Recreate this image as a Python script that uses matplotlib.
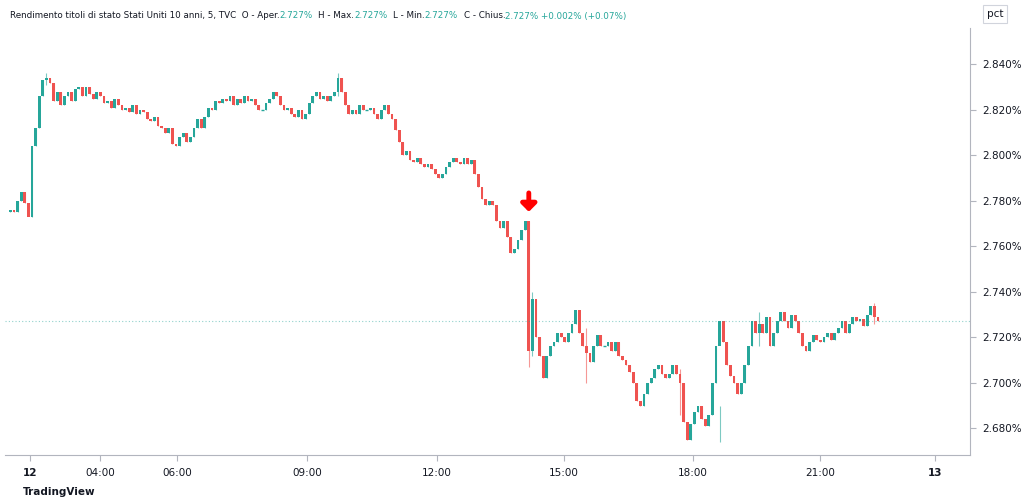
import matplotlib.pyplot as plt
from matplotlib.patches import Rectangle
import numpy as np

# closes of the 5 minute bars (opens = previous close)
closes = [2.776, 2.775, 2.780, 2.784, 2.779, 2.773,
          2.804, 2.812, 2.826, 2.833, 2.834, 2.832,
          2.824, 2.828, 2.822, 2.826, 2.828, 2.824, 2.829, 2.830, 2.826, 2.830, 2.827, 2.825, 2.828,
          2.826, 2.823, 2.824, 2.821, 2.825, 2.822, 2.820, 2.821,
          2.819, 2.822, 2.818, 2.820, 2.819, 2.816, 2.815, 2.817, 2.813, 2.812, 2.810, 2.812,
          2.805, 2.804, 2.808, 2.810, 2.806, 2.808, 2.812, 2.816,
          2.812, 2.817, 2.821, 2.820, 2.824, 2.823, 2.825, 2.824, 2.826, 2.822, 2.825, 2.823,
          2.826, 2.824, 2.825, 2.822, 2.820, 2.820, 2.823, 2.825, 2.828, 2.826, 2.822, 2.820, 2.821, 2.818,
          2.817, 2.820, 2.816, 2.818, 2.823, 2.826, 2.828, 2.825, 2.826, 2.824, 2.826, 2.828,
          2.834, 2.828, 2.822, 2.818, 2.820, 2.818, 2.822, 2.820, 2.820, 2.821, 2.818, 2.816, 2.820, 2.822, 2.818,
          2.816, 2.811, 2.806, 2.800, 2.802, 2.798, 2.797, 2.799, 2.796, 2.795, 2.796,
          2.794, 2.792, 2.790, 2.792, 2.795, 2.797, 2.799, 2.797,
          2.796, 2.799, 2.796, 2.798, 2.792, 2.786, 2.781, 2.778,
          2.780, 2.778, 2.771, 2.768, 2.771, 2.764, 2.757, 2.759, 2.763, 2.767, 2.771,
          2.714, 2.737, 2.720, 2.712,
          2.702, 2.712, 2.716, 2.718, 2.722, 2.720, 2.718, 2.722, 2.726, 2.732, 2.722, 2.716,
          2.713, 2.709, 2.716, 2.721, 2.716, 2.716, 2.718, 2.714, 2.718, 2.712, 2.710,
          2.708, 2.705, 2.700, 2.692, 2.690, 2.695, 2.700,
          2.702, 2.706, 2.708, 2.704, 2.702, 2.704, 2.708, 2.704, 2.700,
          2.683, 2.675, 2.682, 2.687, 2.690, 2.684, 2.681, 2.686, 2.700,
          2.716, 2.727, 2.718, 2.708, 2.703, 2.700, 2.695, 2.700, 2.708, 2.716, 2.727,
          2.722, 2.726, 2.722, 2.729, 2.716, 2.722, 2.727, 2.731, 2.727, 2.724, 2.730, 2.727, 2.722, 2.716,
          2.714, 2.718, 2.721, 2.719, 2.718, 2.720, 2.722, 2.719, 2.722, 2.724, 2.727, 2.722, 2.726, 2.729,
          2.727, 2.728, 2.725, 2.730, 2.734, 2.729, 2.727]
first_open = 2.775
# a few visible wick extremes (bar index: (low, high))
wicks = {5: (2.773, 2.773), 10: (2.831, 2.836), 91: (2.826, 2.836), 144: (2.707, 2.771),
         145: (2.712, 2.740), 160: (2.700, 2.724), 186: (2.686, 2.706), 197: (2.674, 2.690),
         208: (2.716, 2.731), 240: (2.726, 2.735)}

last_price = 2.727
yticks = [2.680, 2.700, 2.720, 2.740, 2.760, 2.780, 2.800, 2.820, 2.840]
xlabels = ['12', '04:00', '06:00', '09:00', '12:00', '15:00', '18:00', '21:00', '13']
xlabel_px = [30, 100, 177, 307, 437, 564, 693, 820, 935]

# header pieces: (text, is_value)
header = [('Rendimento titoli di stato Stati Uniti 10 anni, 5, TVC  O - Aper.', False),
          ('2.727%', True), ('H - Max.', False), ('2.727%', True),
          ('L - Min.', False), ('2.727%', True), ('C - Chius.', False),
          ('2.727% +0.002% (+0.07%)', True)]

up_c = '#26a69a'
dn_c = '#ef5350'

fig = plt.figure(figsize=(10.24, 5.03), dpi=100)
ax = fig.add_axes([5 / 1024, 1 - 455 / 503, 965 / 1024, 427 / 503])

opens = [first_open] + closes[:-1]
for i, (o, c) in enumerate(zip(opens, closes)):
    col = up_c if c >= o else dn_c
    lo, hi = wicks.get(i, (min(o, c), max(o, c)))
    ax.vlines(i, lo, hi, color=col, lw=0.8, alpha=0.6)
    h = abs(c - o)
    if h < 0.0004:
        ax.hlines((o + c) / 2, i - 0.38, i + 0.38, color=col, lw=1)
    else:
        ax.add_patch(Rectangle((i - 0.38, min(o, c)), 0.76, h, color=col, lw=0))

nslots = 965 / 3.6
ax.set_xlim(-1.5, nslots - 1.5)
ax.set_ylim(2.6683, 2.8560)
ax.axhline(last_price, color=up_c, lw=0.8, ls=(0, (1, 2)), alpha=0.5)

# red arrow above the spike
ax.annotate('', xy=(144, 2.7752), xytext=(144, 2.7835),
            arrowprops=dict(arrowstyle='-|>,head_width=0.45,head_length=0.45', lw=3.5,
                            color='#ff0000', shrinkA=0, shrinkB=0))

ax.yaxis.tick_right()
ax.set_yticks(yticks)
ax.set_yticklabels(['%.3f%%' % t for t in yticks], fontsize=7.5, color='#131722')
xpos = [-1.5 + (p - 5) / 3.6 for p in xlabel_px]
ax.set_xticks(xpos)
ax.set_xticklabels(xlabels, fontsize=7.5, color='#131722')
for lab in ax.get_xticklabels()[::8]:
    lab.set_fontweight('bold')
ax.tick_params(length=4, color='#b2b5be', pad=5)
for s in ['top', 'left']:
    ax.spines[s].set_visible(False)
for s in ['right', 'bottom']:
    ax.spines[s].set_color('#b2b5be')

# header line, each piece placed right after the previous one
prev = None
for txt, val in header:
    col = up_c if val else '#131722'
    if prev is None:
        prev = fig.text(10 / 1024, 1 - 16 / 503, txt, fontsize=6.3, color=col, va='center')
    else:
        gap = 0 if val else 4
        prev = ax.annotate(txt, xy=(1, 0.5), xycoords=prev, xytext=(gap, 0),
                           textcoords='offset points', fontsize=6.3, color=col,
                           va='center', annotation_clip=False)
fig.text(0.022, 1 - 492 / 503, 'TradingView', fontsize=7.5, color='#131722', va='center', fontweight='bold')
fig.text(995 / 1024, 1 - 14 / 503, 'pct', fontsize=7.5, color='#131722', ha='center', va='center',
         bbox=dict(boxstyle='square,pad=0.4', fc='white', ec='#d1d4dc', lw=0.8))
fig.savefig('out.png', dpi=100)
